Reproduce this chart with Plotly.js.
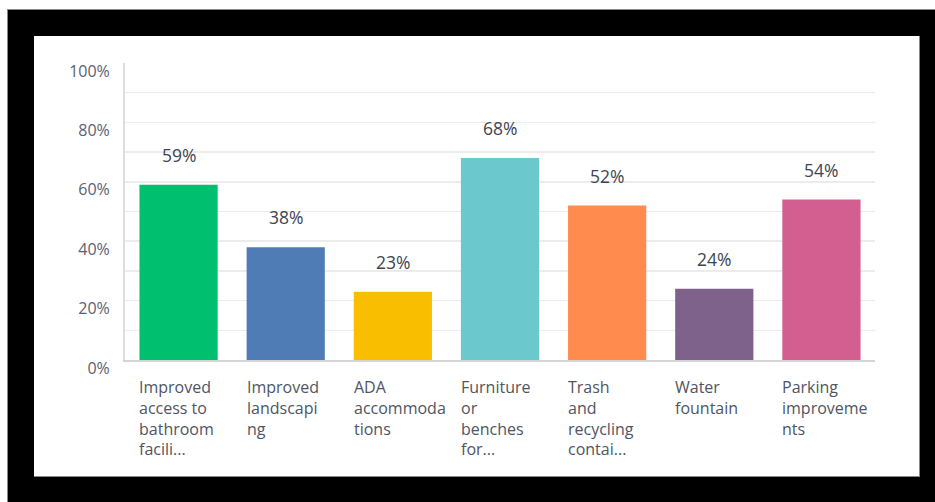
<!DOCTYPE html>
<html>
<head>
<meta charset="utf-8">
<script src="https://cdn.plot.ly/plotly-3.0.1.min.js"></script>
<style>
  html, body { margin:0; padding:0; background:#ffffff; width:935px; height:502px; overflow:hidden; }
  #frame { position:absolute; left:7px; top:9px; width:928px; height:493px; background:#000; border-top:1px solid #888; border-left:1px solid #888; box-sizing:border-box; }
  #chart { position:absolute; left:34px; top:36px; width:885px; height:440px; background:#fff; border-right:1px solid #888; border-bottom:1px solid #888; box-sizing:content-box; }
</style>
</head>
<body>
<div id="frame"></div>
<div id="chart"></div>
<script>
const categories = [
  "Improved access to bathroom facili...",
  "Improved landscaping",
  "ADA accommodations",
  "Furniture or benches for...",
  "Trash and recycling contai...",
  "Water fountain",
  "Parking improvements"
];
const tickLabels = [
  "Improved<br>access to<br>bathroom<br>facili...",
  "Improved<br>landscapi<br>ng",
  "ADA<br>accommoda<br>tions",
  "Furniture<br>or<br>benches<br>for...",
  "Trash<br>and<br>recycling<br>contai...",
  "Water<br>fountain",
  "Parking<br>improveme<br>nts"
];
const values = [0.59, 0.38, 0.23, 0.68, 0.52, 0.24, 0.54];
const valueLabels = ["59%", "38%", "23%", "68%", "52%", "24%", "54%"];
const colors = ["#00BF6F", "#507CB6", "#F9BE00", "#6BC8CD", "#FF8B4F", "#7F628B", "#D25F90"];
const yTickVals = [0, 0.2, 0.4, 0.6, 0.8, 1.0];
const yTickText = ["0%", "20%", "40%", "60%", "80%", "100%"];
const yMinorVals = [0.1, 0.2, 0.3, 0.4, 0.5, 0.6, 0.7, 0.8, 0.9];

const FONT = "Open Sans, Noto Sans, sans-serif";
const barWidth = 0.73;

const annotations = [];
categories.forEach((c, i) => {
  annotations.push({
    x: i, y: values[i], xref: "x", yref: "y",
    text: valueLabels[i], showarrow: false,
    yanchor: "middle", yshift: 30,
    font: {family: FONT, size: 17.5, color: "#3f4450"}
  });
  annotations.push({
    x: i - barWidth / 2, y: 0, xref: "x", yref: "paper",
    text: tickLabels[i], showarrow: false,
    xanchor: "left", yanchor: "top", align: "left",
    yshift: -15, xshift: -1, borderpad: 0,
    font: {family: FONT, size: 16, color: "#4f5563"}
  });
});

const trace = {
  type: "bar",
  x: categories.map((c, i) => i),
  y: values,
  marker: {color: colors},
  width: barWidth,
  hoverinfo: "skip"
};

const layout = {
  width: 885, height: 440,
  margin: {l: 91, r: 44, t: 27, b: 116},
  paper_bgcolor: "#ffffff", plot_bgcolor: "#ffffff",
  showlegend: false,
  bargap: 0.27,
  xaxis: {
    range: [-0.5, 6.5],
    showticklabels: false, showgrid: false, zeroline: false,
    showline: true, linecolor: "#d4d4d4", linewidth: 2,
    ticks: "", fixedrange: true
  },
  yaxis: {
    range: [0, 1],
    tickmode: "array", tickvals: yTickVals, ticktext: yTickText,
    showgrid: false, zeroline: false,
    showline: true, linecolor: "#dedede", linewidth: 2,
    ticks: "", ticklabelstandoff: 10, ticklabelshift: 8,
    tickfont: {family: FONT, size: 16, color: "#5b6170"},
    minor: {tickmode: "array", tickvals: yMinorVals, showgrid: true, gridcolor: "#ececec", gridwidth: 1.5, ticks: ""},
    fixedrange: true
  },
  annotations: annotations
};

Plotly.newPlot("chart", [trace], layout, {displayModeBar: false, staticPlot: true});
</script>
</body>
</html>
